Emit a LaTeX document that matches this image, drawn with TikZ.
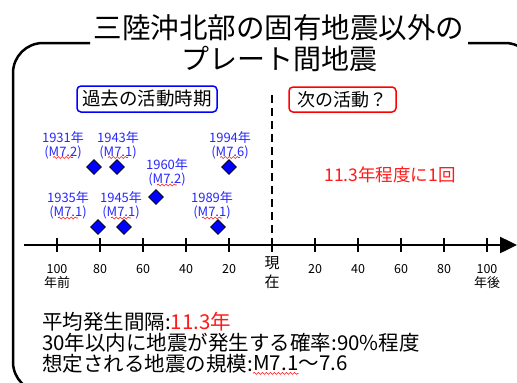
\documentclass[tikz,border=0pt]{standalone}
\usepackage{fontspec}
\setmainfont{Noto Sans CJK JP}
\usetikzlibrary{shapes.geometric,arrows.meta,decorations.pathmorphing}
\definecolor{lblue}{RGB}{40,40,255}
\definecolor{lred}{RGB}{255,25,25}
\begin{document}
\begin{tikzpicture}[x=1pt,y=-1pt,
  thickline/.style={line width=2.5pt},
  quake/.style={diamond,draw=black,fill=blue,line width=0.8pt,minimum size=15pt,inner sep=0pt},
  yearlbl/.style={text=lblue,align=center,font=\fontsize{13}{14}\selectfont,inner sep=0pt},
  ticklbl/.style={font=\fontsize{12.5}{13}\selectfont,inner sep=0pt},
  squig/.style={draw=lred,line width=0.6pt,decorate,decoration={snake,amplitude=1pt,segment length=4pt}},
  infotext/.style={anchor=west,inner sep=0pt,font=\fontsize{20.5}{21}\selectfont}]
\useasboundingbox (0,0) rectangle (517,383);
\fill[white] (0,0) rectangle (517,383);
\clip (0,0) rectangle (517,383);
% frame
\coordinate (fa) at (90,43);
\coordinate (fb) at (468,43);
\draw[thickline,rounded corners=30pt] (fa) -- (13,43) -- (13,392) -- (535,392) -- (535,43) -- (fb);
% title
\node[inner sep=0pt,font=\fontsize{28.5}{30}\selectfont] (title1) at (279,28) {三陸沖北部の固有地震以外の};
\node[inner sep=0pt,font=\fontsize{28}{30}\selectfont] (title2) at (279,59) {プレート間地震};
% header boxes
\node[draw=blue,line width=1.5pt,rounded corners=4pt,minimum width=140pt,minimum height=26pt,inner sep=0pt,font=\fontsize{18.5}{20}\selectfont] (past) at (147,99) {過去の活動時期};
\node[draw=red,line width=1.5pt,rounded corners=4pt,minimum width=107pt,minimum height=25pt,inner sep=0pt,font=\fontsize{18}{20}\selectfont] (next) at (342.5,99.5) {次の活動？};
% present dashed line
\coordinate (dtop) at (272,95);
\coordinate (dbot) at (272,240);
\draw[line width=2.5pt,dash pattern=on 8pt off 5pt] (dtop) -- (dbot);
% axis
\coordinate (axs) at (24,245);
\coordinate (axe) at (517,245);
\draw[thickline,-{Triangle[length=17pt,width=16pt]}] (axs) -- (axe);
\foreach \i in {0,...,10}{
  \draw[thickline] ({57+43*\i},238) -- ({57+43*\i},252);
}
\foreach \i/\t in {0/100,1/80,2/60,3/40,4/20,6/20,7/40,8/60,9/80,10/100}{
  \node[ticklbl] (t\i) at ({57+43*\i},269) {\t};
}
\node[ticklbl,font=\fontsize{13}{14}\selectfont] (before) at (57,283) {年前};
\node[ticklbl,font=\fontsize{13}{14}\selectfont] (after) at (487,283) {年後};
\node[inner sep=0pt,font=\fontsize{15}{16}\selectfont] (now1) at (272,263) {現};
\node[inner sep=0pt,font=\fontsize{15}{16}\selectfont] (now2) at (272,282) {在};
% quakes
\node[quake] (q1931) at (94,167) {};
\node[quake] (q1943) at (117,167) {};
\node[quake] (q1994) at (229,167) {};
\node[quake] (q1960) at (156,197) {};
\node[quake] (q1935) at (98,227) {};
\node[quake] (q1945) at (124,227) {};
\node[quake] (q1989) at (218,227) {};
% year labels
\node[yearlbl] (l1931) at (63,145) {1931年\\(M7.2)};
\node[yearlbl] (l1943) at (118,145) {1943年\\(M7.1)};
\node[yearlbl] (l1994) at (230,145) {1994年\\(M7.6)};
\node[yearlbl] (l1960) at (167,172.5) {1960年\\(M7.2)};
\node[yearlbl] (l1935) at (68,205.5) {1935年\\(M7.1)};
\node[yearlbl] (l1945) at (121,205.5) {1945年\\(M7.1)};
\node[yearlbl] (l1989) at (212,205.5) {1989年\\(M7.1)};
\foreach \n/\cx/\cy in {a/63/157.5,b/118/157.5,c/230/157.5,d/167/185,e/68/218,f/121/218,g/212/218}{
  \coordinate (s\n1) at ({\cx-10},\cy);
  \coordinate (s\n2) at ({\cx+10},\cy);
  \draw[squig] (s\n1) -- (s\n2);
}
% next activity
\node[text=lred,inner sep=0pt,font=\fontsize{17.5}{18}\selectfont] (freq) at (390,175) {11.3年程度に1回};
% info text
\node[infotext] (info1) at (42,322) {平均発生間隔:\textcolor{lred}{11.3年}};
\node[infotext] (info2) at (42,343) {30年以内に地震が発生する確率:90\%程度};
\node[infotext] (info3a) at (42,363.5) {想定される地震の規模:};
\node[infotext] (info3b) at (info3a.east) {M7.1};
\node[infotext] (info3c) at (info3b.east) {～7.6};
\coordinate (sh1) at ([yshift=-2pt]info3b.south west);
\coordinate (sh2) at ([yshift=-2pt]info3b.south east);
\draw[squig] (sh1) -- (sh2);
\end{tikzpicture}
\end{document}
